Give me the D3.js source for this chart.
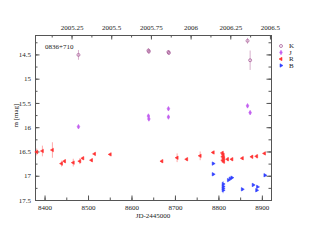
<!DOCTYPE html>
<html>
<head>
<meta charset="utf-8">
<script src="https://cdn.jsdelivr.net/npm/d3@7"></script>
<style>
  body { margin: 0; background: #fff; }
  svg text { font-family: "Liberation Serif", "DejaVu Serif", serif; fill: #222; }
</style>
</head>
<body>
<div id="chart"></div>
<script>
var svgWidth = 314;
var svgHeight = 243;

var margin = { top: 35, right: 43, bottom: 43, left: 35 };

var width = svgWidth - margin.left - margin.right;
var height = svgHeight - margin.top - margin.bottom;

// K band
var kJD  = [8478, 8639, 8640, 8685, 8686, 8867, 8873];
var kMag = [14.51, 14.42, 14.44, 14.45, 14.47, 14.22, 14.62];
var kErr = [0.10, 0.05, 0.05, 0.04, 0.04, 0.06, 0.20];

// J band
var jJD  = [8478, 8639, 8640, 8685, 8685, 8867, 8873];
var jMag = [15.99, 15.77, 15.83, 15.62, 15.79, 15.56, 15.70];
var jErr = [0.03, 0.03, 0.03, 0.03, 0.03, 0.03, 0.03];

// R band
var rJD  = [8382, 8395, 8418, 8439, 8446, 8466, 8481, 8488, 8508, 8515, 8551,
            8670, 8705, 8727, 8758, 8788, 8809, 8811, 8810, 8812, 8810, 8812,
            8821, 8831, 8855, 8877, 8888, 8906];
var rMag = [16.51, 16.49, 16.47, 16.75, 16.70, 16.73, 16.70, 16.64, 16.68, 16.55, 16.56,
            16.70, 16.63, 16.66, 16.59, 16.52, 16.53, 16.57, 16.61, 16.64, 16.68, 16.71,
            16.66, 16.66, 16.64, 16.61, 16.60, 16.54];
var rErr = [0.07, 0.11, 0.16, 0.06, 0.03, 0.08, 0.06, 0.03, 0.03, 0.03, 0.02,
            0.03, 0.09, 0.03, 0.09, 0.03, 0.04, 0.05, 0.05, 0.05, 0.05, 0.04,
            0.04, 0.03, 0.03, 0.03, 0.04, 0.03];

// B band
var bJD  = [8788, 8788, 8811, 8811, 8811, 8811, 8823, 8827, 8831, 8855, 8880, 8890, 8888, 8907];
var bMag = [16.75, 16.97, 17.17, 17.22, 17.26, 17.30, 17.09, 17.06, 17.04, 17.28, 17.19, 17.23, 17.30, 16.99];
var bErr = [0.03, 0.03, 0.06, 0.06, 0.06, 0.06, 0.03, 0.03, 0.03, 0.03, 0.03, 0.03, 0.03, 0.03];

var bandNames = ["K", "J", "R", "B"];
var xTicks = [8400, 8500, 8600, 8700, 8800, 8900];
var yTicks = [14.5, 15, 15.5, 16, 16.5, 17, 17.5];
var yearTicks = [2005.25, 2005.5, 2005.75, 2006, 2006.25, 2006.5];

function zip(jd, mag, err) {
  return jd.map(function(d, i) { return { jd: d, mag: mag[i], err: err[i] }; });
}

var bands = [
  { name: "K", data: zip(kJD, kMag, kErr), color: "#a8609a", bar: "#d8b0cc" },
  { name: "J", data: zip(jJD, jMag, jErr), color: "#c25ff0", bar: "#e0b0f8" },
  { name: "R", data: zip(rJD, rMag, rErr), color: "#ff3030", bar: "#ffa8a8" },
  { name: "B", data: zip(bJD, bMag, bErr), color: "#3040ff", bar: "#a8b0ff" }
];

var svg = d3.select("#chart")
  .append("svg")
  .attr("width", svgWidth)
  .attr("height", svgHeight);

var chartGroup = svg.append("g")
  .attr("transform", `translate(${margin.left}, ${margin.top})`);

var xScale = d3.scaleLinear().domain([8378, 8921]).range([0, width]);
var yScale = d3.scaleLinear().domain([14.1, 17.5]).range([0, height]);

// JD-2445000 -> decimal year
function toYear(jd) { return 2000 + (jd + 2445000 - 2451544.5) / 365.25; }
var yearScale = d3.scaleLinear()
  .domain([toYear(8378), toYear(8921)])
  .range([0, width]);

function styleAxis(g) {
  g.selectAll("path").attr("stroke", "#555");
  g.selectAll("line").attr("stroke", "#555");
  g.selectAll("text").style("font-size", "7px");
}

function minors(lo, hi, step) {
  var out = [];
  for (var v = lo; v <= hi + 1e-9; v += step) out.push(+v.toFixed(4));
  return out;
}

// minor ticks
chartGroup.append("g")
  .attr("transform", `translate(0, ${height})`)
  .call(d3.axisBottom(xScale).tickValues(minors(8400, 8900, 50)).tickSize(-2.5).tickFormat(""))
  .call(styleAxis);
chartGroup.append("g")
  .call(d3.axisTop(yearScale).tickValues(minors(2005.125, 2006.5, 0.125)).tickSize(-2.5).tickFormat(""))
  .call(styleAxis);
chartGroup.append("g")
  .call(d3.axisLeft(yScale).tickValues(minors(14.25, 17.5, 0.25)).tickSize(-2.5).tickFormat(""))
  .call(styleAxis);
chartGroup.append("g")
  .attr("transform", `translate(${width}, 0)`)
  .call(d3.axisRight(yScale).tickValues(minors(14.25, 17.5, 0.25)).tickSize(-2.5).tickFormat(""))
  .call(styleAxis);

// major ticks
chartGroup.append("g")
  .attr("transform", `translate(0, ${height})`)
  .call(d3.axisBottom(xScale).tickValues(xTicks).tickSize(-4.5).tickPadding(5).tickFormat(d3.format("d")))
  .call(styleAxis);
chartGroup.append("g")
  .call(d3.axisTop(yearScale).tickValues(yearTicks).tickSize(-4.5).tickPadding(5).tickFormat(d => String(d)))
  .call(styleAxis);
chartGroup.append("g")
  .call(d3.axisLeft(yScale).tickValues(yTicks).tickSize(-4.5).tickPadding(4).tickFormat(d => String(d)))
  .call(styleAxis);
chartGroup.append("g")
  .attr("transform", `translate(${width}, 0)`)
  .call(d3.axisRight(yScale).tickValues(yTicks).tickSize(-4.5).tickFormat(""))
  .call(styleAxis);

var plot = chartGroup.append("g");

var symbolFor = {
  K: { type: d3.symbolCircle, size: 7, fill: false, rot: 0 },
  J: { type: d3.symbolDiamond, size: 6, fill: true, rot: 0 },
  R: { type: d3.symbolTriangle, size: 5, fill: true, rot: -90 },
  B: { type: d3.symbolTriangle, size: 5, fill: true, rot: 90 }
};

bands.forEach(function(band) {
  var s = symbolFor[band.name];
  var g = plot.append("g");

  g.selectAll("line.err")
    .data(band.data)
    .enter()
    .append("line")
    .attr("x1", d => xScale(d.jd))
    .attr("x2", d => xScale(d.jd))
    .attr("y1", d => yScale(d.mag - d.err))
    .attr("y2", d => yScale(d.mag + d.err))
    .attr("stroke", band.bar)
    .attr("stroke-width", 1);

  g.selectAll("path.pt")
    .data(band.data)
    .enter()
    .append("path")
    .attr("d", d3.symbol().type(s.type).size(s.size))
    .attr("transform", d => `translate(${xScale(d.jd)}, ${yScale(d.mag)}) rotate(${s.rot})`)
    .attr("fill", s.fill ? band.color : "none")
    .attr("stroke", band.color)
    .attr("stroke-width", s.fill ? 0.6 : 0.8);
});

// legend
var legend = chartGroup.append("g")
  .attr("transform", `translate(${width + 10}, 11)`);

bandNames.forEach(function(name, i) {
  var band = bands.find(b => b.name === name);
  var s = symbolFor[name];
  legend.append("path")
    .attr("d", d3.symbol().type(s.type).size(s.size))
    .attr("transform", `translate(0, ${i * 6.5}) rotate(${s.rot})`)
    .attr("fill", s.fill ? band.color : "none")
    .attr("stroke", band.color)
    .attr("stroke-width", s.fill ? 0.6 : 0.8);
  legend.append("text")
    .attr("x", 8)
    .attr("y", i * 6.5)
    .attr("dy", "0.33em")
    .style("font-size", "7px")
    .text(name);
});

// source name
chartGroup.append("text")
  .attr("x", 10)
  .attr("y", 14)
  .style("font-size", "7px")
  .text("0836+710");

// axis labels
chartGroup.append("text")
  .attr("transform", "rotate(-90)")
  .attr("x", -(height / 2) + 2)
  .attr("y", -17)
  .attr("text-anchor", "middle")
  .style("font-size", "7px")
  .text("m [mag]");

chartGroup.append("text")
  .attr("x", width / 2)
  .attr("y", height + 18)
  .attr("text-anchor", "middle")
  .style("font-size", "7px")
  .text("JD-2445000");
</script>
</body>
</html>
